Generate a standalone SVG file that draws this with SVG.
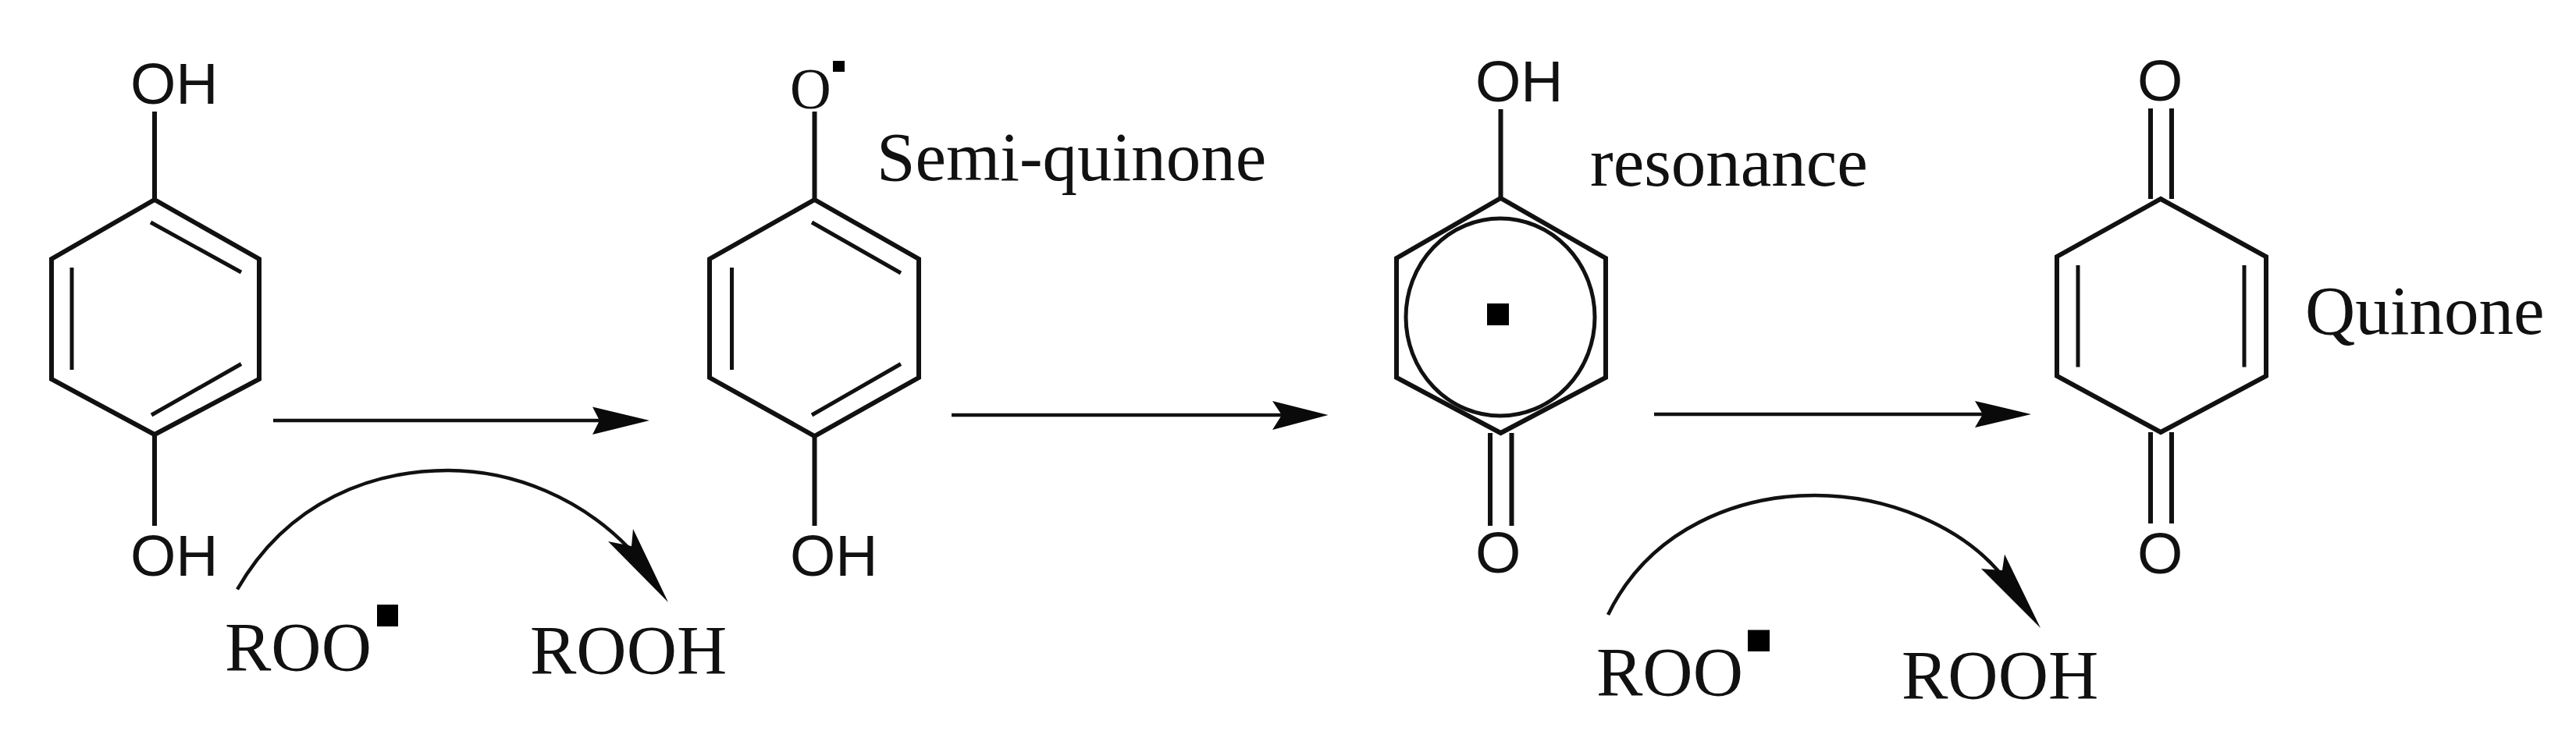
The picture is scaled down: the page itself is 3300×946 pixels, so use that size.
<svg xmlns="http://www.w3.org/2000/svg" width="3300" height="946" viewBox="0 0 3300 946">
<defs>
<style>
.b{fill:none;stroke:#111;stroke-width:6;stroke-linejoin:miter}
.i{fill:none;stroke:#111;stroke-width:5}
.a{fill:none;stroke:#111;stroke-width:4.5}
.h{fill:#0a0a0a;stroke:none}
.s{font-family:"Liberation Sans",Arial,sans-serif;font-size:75px;fill:#111}
.t{font-family:"Liberation Serif","Times New Roman",serif;font-size:89px;fill:#111}
.r{fill:#000}
</style>
</defs>
<rect width="3300" height="946" fill="#fff"/>
<g id="hydroquinone">
<path class="b" d="M198 256L332 332V486L198 557L66 486V332Z"/>
<path class="i" d="M193 285L309 349M92 343V474M309 466.500L194 532"/>
<path class="b" d="M198 143V256M198 557V674"/>
<text class="s" x="167" y="133">OH</text>
<text class="s" x="167" y="737.500">OH</text>
</g>
<g id="semiquinone">
<path class="b" d="M1043.500 256L1177 332V484L1043.500 559L909 484V332Z"/>
<path class="i" d="M1040 285L1154 350M937.500 343V474M1154 466.500L1040 532"/>
<path class="b" d="M1043.500 143V256M1043.500 559V674"/>
<text class="t" x="1012" y="139" style="font-size:73px">O</text>
<rect class="r" x="1067" y="78" width="15" height="14"/>
<text class="s" x="1012" y="737.500">OH</text>
<text class="t" x="1123" y="231">Semi-quinone</text>
</g>
<g id="resonance">
<path class="b" d="M1922.500 254L2057 331V484L1922.500 555L1789 484V331Z"/>
<ellipse class="i" cx="1922" cy="406.500" rx="121" ry="126.500"/>
<rect class="r" x="1905" y="389" width="28" height="28"/>
<path class="b" d="M1922.500 140V254M1909 555V674M1936.500 555V674"/>
<text class="s" x="1890" y="130">OH</text>
<text class="s" x="1890" y="734">O</text>
<text class="t" x="2037" y="238">resonance</text>
</g>
<g id="quinone">
<path class="b" d="M2768 255L2903 329V482L2768 554L2635 482V329Z"/>
<path class="i" d="M2662 340V470.500M2875 340V470.500"/>
<path class="b" d="M2755 139V255M2782 139V255M2755 554V671M2782 554V671"/>
<text class="s" x="2738" y="129">O</text>
<text class="s" x="2738" y="734.500">O</text>
<text class="t" x="2953" y="427.500">Quinone</text>
</g>
<g id="connectors">
<path class="a" d="M350 539H775"/>
<path class="h" d="M832 539L759 521.500L768 539L759 557Z"/>
<path class="a" d="M1219 532H1650"/>
<path class="h" d="M1701.500 532L1630 514L1642 532L1630 551Z"/>
<path class="a" d="M2119 531H2550"/>
<path class="h" d="M2602 531L2530 514L2540 531L2530 548Z"/>
<path class="a" d="M304 755.500C370 640 480 603 574 603C660 603 745 640 805 702"/>
<path class="h" d="M856 772L811 678L809 700L779 694Z"/>
<path class="a" d="M2060 788C2115 675 2230 635 2325 635C2420 635 2510 675 2560 732"/>
<path class="h" d="M2614 805L2568 710.500L2565 731L2538 729Z"/>
</g>
<g id="reagents">
<text class="t" x="288" y="859">ROO</text>
<rect class="r" x="483" y="775" width="27" height="28"/>
<text class="t" x="679" y="863">ROOH</text>
<text class="t" x="2045" y="891">ROO</text>
<rect class="r" x="2239" y="807.500" width="28" height="27.500"/>
<text class="t" x="2436" y="895">ROOH</text>
</g>
</svg>
